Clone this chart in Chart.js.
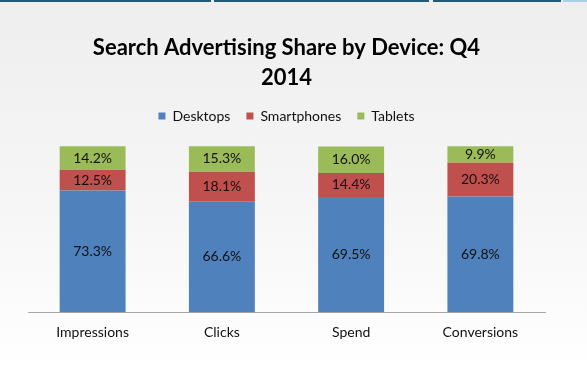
<!DOCTYPE html>
<html lang="en">
<head>
    <meta charset="UTF-8">
    <title>Search Advertising Share by Device: Q4 2014</title>
    <script src="https://cdn.jsdelivr.net/npm/chart.js"></script>
    <style>
        html, body {
            margin: 0;
            padding: 0;
        }
        body {
            width: 587px;
            height: 373px;
            overflow: hidden;
            position: relative;
            background: linear-gradient(to bottom, #eeeeee 0%, #f6f6f6 55%, #ffffff 100%);
        }
        .bar-top {
            position: absolute;
            top: 0;
            height: 2px;
            background: #215a74;
        }
        #wrap {
            position: absolute;
            left: 0;
            top: 0;
            width: 587px;
            height: 373px;
        }
    </style>
</head>
<body>
    <div class="bar-top" style="left:0;width:211px"></div>
    <div class="bar-top" style="left:214px;width:215px"></div>
    <div class="bar-top" style="left:433px;width:128px"></div>
    <div class="bar-top" style="left:563px;width:24px;background:#a9cfe2"></div>
    <div id="wrap"><canvas id="shareChart"></canvas></div>

    <script>
        // data (percent of total)
        const categories = ['Impressions', 'Clicks', 'Spend', 'Conversions'];
        const desktops = [73.3, 66.6, 69.5, 69.8];
        const smartphones = [12.5, 18.1, 14.4, 20.3];
        const tablets = [14.2, 15.3, 16.0, 9.9];
        const seriesNames = ['Desktops', 'Smartphones', 'Tablets'];
        const seriesColors = ['#4f81bd', '#c0504d', '#9bbb59'];
        const Y_MAX = 108;

        // draws the value in the middle of each segment
        const segmentLabels = {
            id: 'segmentLabels',
            afterDatasetsDraw(chart) {
                const ctx = chart.ctx;
                ctx.save();
                ctx.font = '14px Lato';
                ctx.fillStyle = '#111111';
                ctx.textAlign = 'center';
                ctx.textBaseline = 'middle';
                chart.data.datasets.forEach((ds, i) => {
                    chart.getDatasetMeta(i).data.forEach((bar, j) => {
                        const y = (bar.y + bar.base) / 2;
                        ctx.fillText(ds.data[j].toFixed(1) + '%', bar.x, y);
                    });
                });
                ctx.restore();
            }
        };

        const datasets = [desktops, smartphones, tablets].map((vals, i) => ({
            label: seriesNames[i],
            data: vals,
            backgroundColor: seriesColors[i],
            borderWidth: 0,
            categoryPercentage: 1,
            barPercentage: 0.51
        }));

        new Chart(document.getElementById('shareChart'), {
            type: 'bar',
            data: { labels: categories, datasets: datasets },
            options: {
                responsive: true,
                maintainAspectRatio: false,
                animation: false,
                layout: { padding: { left: 28, right: 42, top: 0, bottom: 20 } },
                scales: {
                    x: {
                        stacked: true,
                        grid: { display: false, drawTicks: false },
                        border: { display: true, color: '#a6a6a6', width: 1 },
                        ticks: { color: '#111111', padding: 12, font: { family: 'Lato', size: 14 } }
                    },
                    y: {
                        stacked: true,
                        display: false,
                        min: 0,
                        max: Y_MAX
                    }
                },
                plugins: {
                    title: {
                        display: true,
                        text: ['Search Advertising Share by Device: Q4', '2014'],
                        color: '#000000',
                        font: { family: 'Lato', size: 22, weight: 'bold', lineHeight: '30px' },
                        padding: { top: 33, bottom: 0 }
                    },
                    legend: {
                        labels: {
                            boxWidth: 7,
                            boxHeight: 7,
                            padding: 16,
                            color: '#111111',
                            font: { family: 'Lato', size: 14 }
                        }
                    },
                    tooltip: { enabled: false }
                }
            },
            plugins: [segmentLabels]
        });
    </script>
</body>
</html>
